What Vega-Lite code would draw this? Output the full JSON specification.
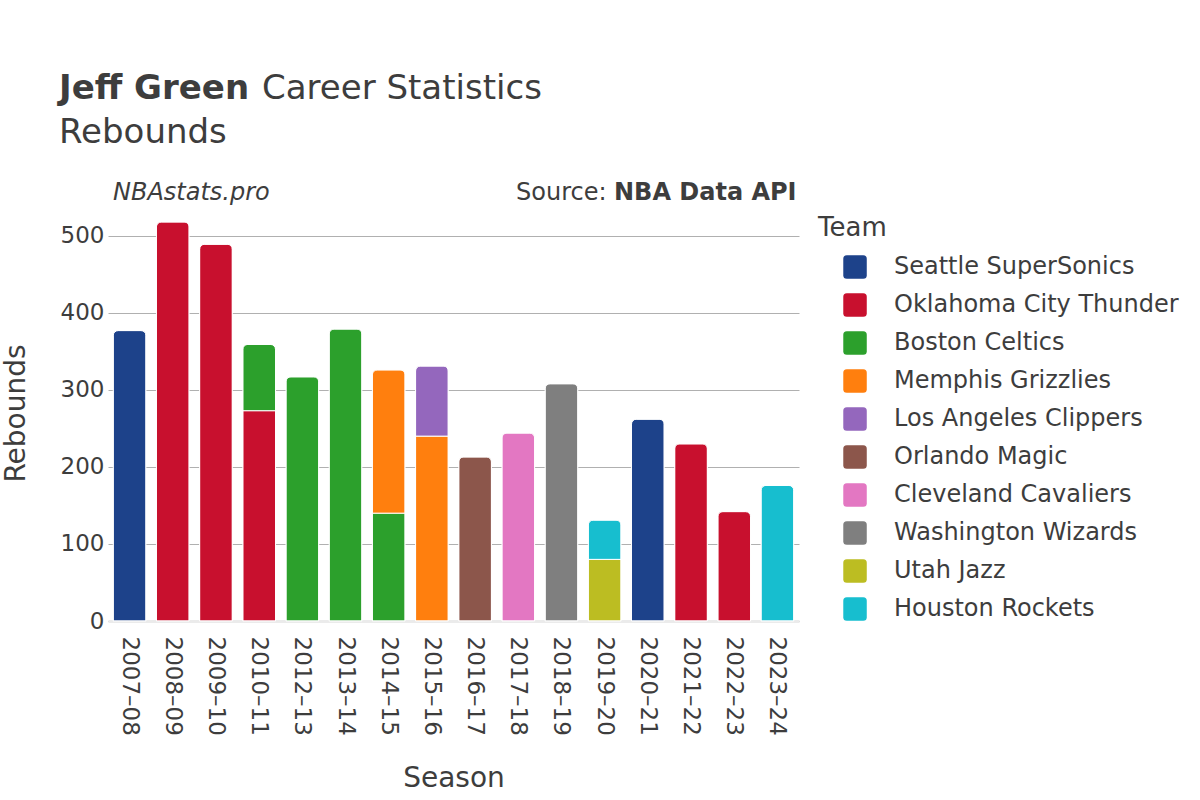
{
  "$schema": "https://vega.github.io/schema/vega-lite/v6.json",
  "width": 691,
  "height": 416,
  "autosize": {"type": "none"},
  "padding": {"left": 108, "top": 205, "right": 401, "bottom": 179},
  "background": "white",
  "config": {
    "font": "DejaVu Sans",
    "view": {"stroke": null},
    "axis": {"labelFont": "DejaVu Sans", "titleFont": "DejaVu Sans", "labelColor": "#3d3d3d", "titleColor": "#3d3d3d", "titleFontWeight": "normal"},
    "legend": {"labelFont": "DejaVu Sans", "titleFont": "DejaVu Sans", "labelColor": "#3d3d3d", "titleColor": "#3d3d3d", "titleFontWeight": "normal"}
  },
  "layer": [
    {
      "data": {
        "values": [
          {"season": "2007–08", "team": "Seattle SuperSonics", "rebounds": 377, "stint": 1},
          {"season": "2008–09", "team": "Oklahoma City Thunder", "rebounds": 518, "stint": 1},
          {"season": "2009–10", "team": "Oklahoma City Thunder", "rebounds": 489, "stint": 1},
          {"season": "2010–11", "team": "Oklahoma City Thunder", "rebounds": 273, "stint": 1},
          {"season": "2010–11", "team": "Boston Celtics", "rebounds": 86, "stint": 2},
          {"season": "2012–13", "team": "Boston Celtics", "rebounds": 317, "stint": 1},
          {"season": "2013–14", "team": "Boston Celtics", "rebounds": 379, "stint": 1},
          {"season": "2014–15", "team": "Boston Celtics", "rebounds": 140, "stint": 1},
          {"season": "2014–15", "team": "Memphis Grizzlies", "rebounds": 186, "stint": 2},
          {"season": "2015–16", "team": "Memphis Grizzlies", "rebounds": 240, "stint": 1},
          {"season": "2015–16", "team": "Los Angeles Clippers", "rebounds": 91, "stint": 2},
          {"season": "2016–17", "team": "Orlando Magic", "rebounds": 213, "stint": 1},
          {"season": "2017–18", "team": "Cleveland Cavaliers", "rebounds": 244, "stint": 1},
          {"season": "2018–19", "team": "Washington Wizards", "rebounds": 308, "stint": 1},
          {"season": "2019–20", "team": "Utah Jazz", "rebounds": 80, "stint": 1},
          {"season": "2019–20", "team": "Houston Rockets", "rebounds": 51, "stint": 2},
          {"season": "2020–21", "team": "Seattle SuperSonics", "rebounds": 262, "stint": 1},
          {"season": "2021–22", "team": "Oklahoma City Thunder", "rebounds": 230, "stint": 1},
          {"season": "2022–23", "team": "Oklahoma City Thunder", "rebounds": 142, "stint": 1},
          {"season": "2023–24", "team": "Houston Rockets", "rebounds": 176, "stint": 1}
        ]
      },
      "mark": {"type": "bar", "cornerRadiusEnd": 5, "stroke": "white", "strokeWidth": 1},
      "encoding": {
        "x": {
          "field": "season",
          "type": "ordinal",
          "sort": null,
          "scale": {"paddingInner": 0.243, "paddingOuter": 0.1215},
          "axis": {
            "title": "Season",
            "titleFontSize": 28,
            "titleY": 157,
            "titleBaseline": "middle",
            "labelAngle": 90,
            "labelFontSize": 23,
            "labelPadding": 15,
            "ticks": false,
            "domain": true,
            "domainColor": "#ebebeb",
            "domainWidth": 3,
            "grid": false
          }
        },
        "y": {
          "field": "rebounds",
          "type": "quantitative",
          "stack": "zero",
          "scale": {"domain": [0, 540], "nice": false},
          "axis": {
            "title": "Rebounds",
            "titleFontSize": 28,
            "titleX": -92,
            "titleBaseline": "middle",
            "values": [0, 100, 200, 300, 400, 500],
            "labelFontSize": 23,
            "labelPadding": 4,
            "ticks": false,
            "domain": false,
            "grid": true,
            "gridColor": "#b0b0b0",
            "gridWidth": 1
          }
        },
        "color": {
          "field": "team",
          "type": "nominal",
          "title": "Team",
          "scale": {
            "domain": ["Seattle SuperSonics", "Oklahoma City Thunder", "Boston Celtics", "Memphis Grizzlies", "Los Angeles Clippers", "Orlando Magic", "Cleveland Cavaliers", "Washington Wizards", "Utah Jazz", "Houston Rockets"],
            "range": ["#1d428a", "#c8102e", "#2ca02c", "#ff7f0e", "#9467bd", "#8c564b", "#e377c2", "#7f7f7f", "#bcbd22", "#17becf"]
          },
          "legend": {
            "orient": "none",
            "legendX": 710,
            "legendY": 10,
            "padding": 0,
            "titleFontSize": 26,
            "titlePadding": 14,
            "labelFontSize": 24,
            "labelLimit": 400,
            "labelOffset": 52,
            "rowPadding": 14,
            "symbolSize": 552,
            "symbolStrokeWidth": 0,
            "symbolType": "M1.43,-1H2.83Q3.13,-1 3.13,-0.7V0.7Q3.13,1 2.83,1H1.43Q1.13,1 1.13,0.7V-0.7Q1.13,-1 1.43,-1Z"
          }
        },
        "order": {"field": "stint", "type": "quantitative"}
      }
    },
    {
      "data": {"values": [{"t": "Jeff Green"}]},
      "mark": {"type": "text", "align": "left", "baseline": "alphabetic", "fontSize": 34, "fontWeight": "bold", "font": "DejaVu Sans", "color": "#3d3d3d"},
      "encoding": {"text": {"field": "t"}, "x": {"value": -49}, "y": {"value": -106}}
    },
    {
      "data": {"values": [{"t": "Career Statistics"}]},
      "mark": {"type": "text", "align": "left", "baseline": "alphabetic", "fontSize": 34, "font": "DejaVu Sans", "color": "#3d3d3d"},
      "encoding": {"text": {"field": "t"}, "x": {"value": 154}, "y": {"value": -106}}
    },
    {
      "data": {"values": [{"t": "Rebounds"}]},
      "mark": {"type": "text", "align": "left", "baseline": "alphabetic", "fontSize": 34, "font": "DejaVu Sans", "color": "#3d3d3d"},
      "encoding": {"text": {"field": "t"}, "x": {"value": -49}, "y": {"value": -62}}
    },
    {
      "data": {"values": [{"t": "NBAstats.pro"}]},
      "mark": {"type": "text", "align": "left", "baseline": "alphabetic", "fontSize": 24, "fontStyle": "italic", "font": "DejaVu Sans", "color": "#3d3d3d"},
      "encoding": {"text": {"field": "t"}, "x": {"value": 5}, "y": {"value": -5}}
    },
    {
      "data": {"values": [{"t": "Source:"}]},
      "mark": {"type": "text", "align": "left", "baseline": "alphabetic", "fontSize": 24, "font": "DejaVu Sans", "color": "#3d3d3d"},
      "encoding": {"text": {"field": "t"}, "x": {"value": 408}, "y": {"value": -5}}
    },
    {
      "data": {"values": [{"t": "NBA Data API"}]},
      "mark": {"type": "text", "align": "left", "baseline": "alphabetic", "fontSize": 24, "fontWeight": "bold", "font": "DejaVu Sans", "color": "#3d3d3d"},
      "encoding": {"text": {"field": "t"}, "x": {"value": 506}, "y": {"value": -5}}
    }
  ]
}
